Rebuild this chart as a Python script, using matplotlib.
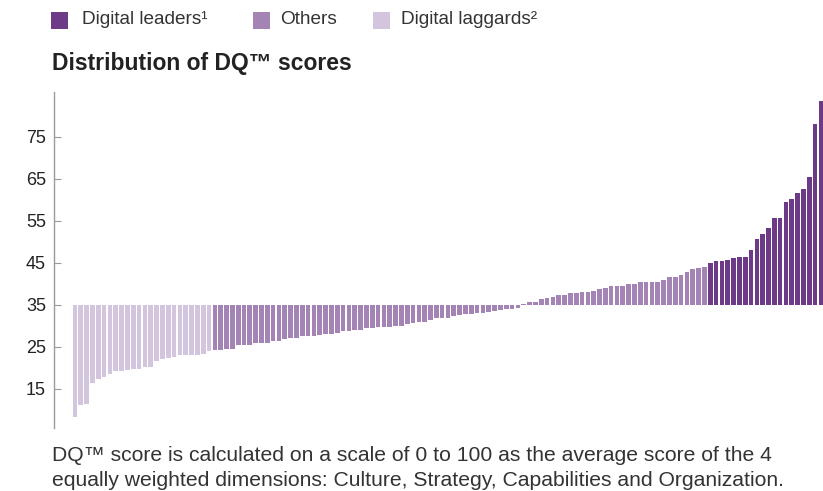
import matplotlib
matplotlib.use("Agg")
import matplotlib.pyplot as plt
from matplotlib.patches import Rectangle
import numpy as np

plt.rcParams['font.family'] = ['Liberation Sans', 'DejaVu Sans']

# ---- data ----
laggards_scores = [8.4, 11.1, 11.4, 16.4, 17.3, 17.8, 18.5, 19.3, 19.3, 19.4, 19.7, 19.7,
                   20.2, 20.2, 21.7, 22.1, 22.4, 22.7, 23.0, 23.0, 23.0, 23.0, 23.4, 24.1]
others_scores = [24.3, 24.3, 24.5, 24.6, 25.5, 25.5, 25.5, 25.9, 25.9, 25.9, 26.3, 26.5,
                 26.8, 27.1, 27.1, 27.5, 27.6, 27.6, 27.8, 28.2, 28.2, 28.4, 28.7, 28.7,
                 29.0, 29.1, 29.4, 29.6, 29.8, 29.8, 29.8, 30.0, 30.0, 30.4, 30.6, 30.9,
                 31.0, 31.4, 31.8, 32.0, 32.0, 32.3, 32.7, 32.8, 32.9, 33.0, 33.2, 33.3,
                 33.5, 33.7, 34.0, 34.0, 34.2, 35.2, 35.6, 35.8, 36.4, 36.6, 37.0, 37.3,
                 37.3, 37.8, 37.8, 38.2, 38.2, 38.4, 38.8, 39.0, 39.5, 39.5, 39.5, 40.1,
                 40.1, 40.5, 40.5, 40.5, 40.5, 40.9, 41.7, 41.7, 42.1, 42.9, 43.5, 43.7, 44.0]
leaders_scores = [45.0, 45.4, 45.4, 45.8, 46.1, 46.5, 46.5, 48.0, 50.6, 51.8, 53.3, 55.7,
                  55.7, 59.5, 60.2, 61.7, 62.5, 65.5, 78.0, 83.6]
baseline = 35
y_ticks = [15, 25, 35, 45, 55, 65, 75]
legend_labels = ["Digital leaders\u00b9", "Others", "Digital laggards\u00b2"]
title = "Distribution of DQ\u2122 scores"
footnote_lines = ["DQ\u2122 score is calculated on a scale of 0 to 100 as the average score of the 4",
                  "equally weighted dimensions: Culture, Strategy, Capabilities and Organization."]

c_leaders = '#6c3a86'
c_others = '#a484b5'
c_laggards = '#d3c5de'
text_color = '#333333'

W, H = 823, 491
fig = plt.figure(figsize=(W / 100, H / 100), dpi=100)
ax = fig.add_axes([54.3 / W, 63 / H, 1 - 54.3 / W, 336 / H])

groups = [(laggards_scores, c_laggards), (others_scores, c_others), (leaders_scores, c_leaders)]
start = 0
for vals, col in groups:
    x = np.arange(start, start + len(vals))
    ax.bar(x, np.array(vals) - baseline, bottom=baseline, width=0.8, color=col,
           edgecolor='none')
    start += len(vals)

ax.set_xlim(-3.55, 128.35)
ax.set_ylim(5.7, 85.7)
ax.set_yticks(y_ticks)
ax.set_xticks([])
for s in ['top', 'right', 'bottom']:
    ax.spines[s].set_visible(False)
ax.spines['left'].set_color('#9a9a9a')
ax.spines['left'].set_linewidth(1.0)
ax.tick_params(axis='y', direction='in', length=5, width=0.8, color='#9a9a9a',
               labelsize=13, labelcolor='#222222', pad=6)

# legend
sq = 17
items = [(51, c_leaders, 82), (253, c_others, 280), (373, c_laggards, 401)]
for (sx, col, tx), lab in zip(items, legend_labels):
    fig.add_artist(Rectangle((sx / W, 1 - (11.5 + sq) / H), sq / W, sq / H,
                             transform=fig.transFigure, facecolor=col, edgecolor='none'))
    fig.text(tx / W, 1 - 20 / H, lab, fontsize=13.7, color=text_color, va='center', ha='left')

fig.text(52 / W, 1 - 70 / H, title, fontsize=16.5, fontweight='bold', color='#222222',
         va='baseline', ha='left')
for i, line in enumerate(footnote_lines):
    fig.text(52 / W, 1 - (461 + 25 * i) / H, line, fontsize=15.2, color=text_color,
             va='baseline', ha='left')

fig.savefig('out.png', dpi=100)
